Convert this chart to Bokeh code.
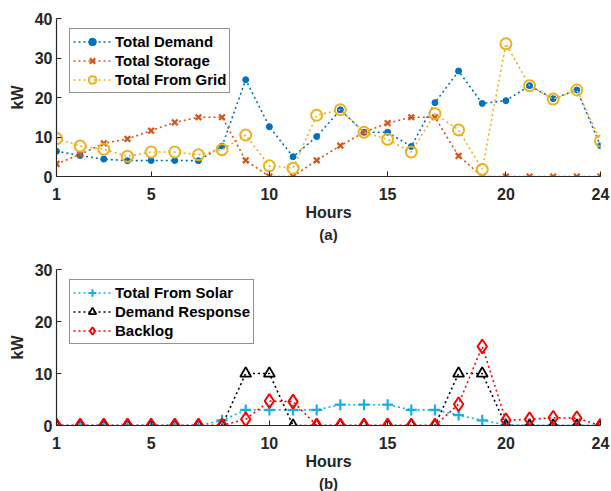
from bokeh.plotting import figure
from bokeh.layouts import column
from bokeh.models import Legend, LegendItem, Title, FixedTicker, Range1d
from bokeh.embed import file_html
from bokeh.resources import INLINE

hours = list(range(1, 25))
x_ticks = [1, 5, 10, 15, 20, 24]

total_demand = [6.4, 5.3, 4.4, 4.0, 4.05, 4.05, 4.0, 7.7, 24.5, 12.6, 5.0, 10.1,
                16.9, 11.2, 11.2, 7.6, 18.7, 26.7, 18.5, 19.2, 23.0, 19.7, 21.9, 7.8]
total_storage = [3.2, 5.6, 8.4, 9.5, 11.6, 13.7, 15.0, 15.0, 4.1, 0.0, 0.0, 4.1,
                 7.8, 11.2, 13.5, 15.0, 15.0, 5.2, 0.0, 0.0, 0.0, 0.0, 0.0, 0.0]
total_from_grid = [9.6, 7.7, 6.9, 5.1, 6.2, 6.2, 5.5, 6.8, 10.5, 2.7, 2.1, 15.5,
                   16.9, 11.2, 9.4, 6.2, 15.9, 11.8, 1.8, 33.6, 23.0, 19.6, 21.9, 9.0]

total_from_solar = [0, 0, 0, 0, 0, 0, 0, 1.0, 3.0, 3.0, 3.0, 3.0,
                    4.0, 4.0, 4.0, 3.0, 3.0, 2.0, 1.0, 0.1, 0, 0, 0, 0]
demand_response = [0, 0, 0, 0, 0, 0, 0, 0, 10, 10, 0, 0,
                   0, 0, 0, 0, 0, 10, 10, 0, 0, 0, 0, 0]
backlog = [0, 0, 0, 0, 0, 0, 0, 0, 1.2, 4.7, 4.6, 0,
           0, 0, 0, 0, 0, 4.1, 15.2, 1.0, 1.2, 1.5, 1.4, 0]

AX = "#262626"
FONT = "Liberation Sans"
DASH = "2 3"


def base_fig(height, top, bottom, ymax, yticks):
    p = figure(width=611, height=height, output_backend="svg", toolbar_location=None,
               x_range=Range1d(1, 24), y_range=Range1d(0, ymax),
               min_border_left=56, min_border_right=11,
               min_border_top=top, min_border_bottom=bottom)
    p.outline_line_color = None
    p.grid.visible = False
    p.background_fill_color = "white"
    p.border_fill_color = "white"
    for ax in (p.xaxis[0], p.yaxis[0]):
        ax.axis_line_color = AX
        ax.axis_line_width = 1.2
        ax.major_tick_line_color = AX
        ax.major_tick_in = 5
        ax.major_tick_out = 0
        ax.minor_tick_line_color = None
        ax.major_label_text_font = FONT
        ax.major_label_text_font_style = "bold"
        ax.major_label_text_font_size = "16px"
        ax.major_label_text_color = AX
        ax.axis_label_text_font = FONT
        ax.axis_label_text_font_style = "bold"
        ax.axis_label_text_font_size = "16px"
        ax.axis_label_text_color = AX
    p.xaxis.ticker = FixedTicker(ticks=x_ticks)
    p.yaxis.ticker = FixedTicker(ticks=yticks)
    p.xaxis.axis_label = "Hours"
    p.yaxis.axis_label = "kW"
    p.xaxis.major_label_standoff = 11
    p.xaxis.axis_label_standoff = 1
    p.yaxis.major_label_standoff = 4
    p.yaxis.axis_label_standoff = 6
    return p


def add_legend(p, items, loc):
    leg = Legend(items=items, location=loc, orientation="vertical",
                 label_text_font=FONT, label_text_font_style="bold",
                 label_text_font_size="15px", label_text_color="black",
                 glyph_width=38, glyph_height=19, label_height=19,
                 spacing=0, padding=3, margin=0, label_standoff=4,
                 border_line_color=AX, border_line_width=1,
                 background_fill_alpha=1.0)
    p.add_layout(leg)


# ---------- top chart (a) ----------
p1 = base_fig(245, 18, 69, 40, [0, 10, 20, 30, 40])

c_blue = "#0072BD"
c_orange = "#D95319"
c_yellow = "#EDB120"

l1 = p1.line(hours, total_demand, line_color=c_blue, line_width=1.6, line_dash=DASH)
m1 = p1.scatter(hours, total_demand, marker="circle", size=6, fill_color=c_blue, line_color=c_blue)
l2 = p1.line(hours, total_storage, line_color=c_orange, line_width=1.6, line_dash=DASH)
m2 = p1.scatter(hours, total_storage, marker="x", size=8, line_color=c_orange, line_width=2.2)
l3 = p1.line(hours, total_from_grid, line_color=c_yellow, line_width=1.6, line_dash=DASH)
m3 = p1.scatter(hours, total_from_grid, marker="circle", size=11, fill_color=None,
                line_color=c_yellow, line_width=2)

add_legend(p1, [LegendItem(label="Total Demand", renderers=[l1, m1]),
                LegendItem(label="Total Storage", renderers=[l2, m2]),
                LegendItem(label="Total From Grid", renderers=[l3, m3])], (13, 83))
p1.add_layout(Title(text="(a)", align="center", text_font=FONT, text_font_size="15px",
                    text_font_style="bold", text_color=AX, standoff=0), "below")

# ---------- bottom chart (b) ----------
p2 = base_fig(246, 24, 66, 30, [0, 10, 20, 30])

c_cyan = "#16ADEB"
c_black = "#000000"
c_red = "#FF0000"

k1 = p2.line(hours, total_from_solar, line_color=c_cyan, line_width=1.6, line_dash=DASH)
n1 = p2.scatter(hours, total_from_solar, marker="cross", size=11, line_color=c_cyan, line_width=2.2)
k2 = p2.line(hours, demand_response, line_color=c_black, line_width=1.6, line_dash=DASH)
n2 = p2.scatter(hours, demand_response, marker="triangle", size=11, fill_color=None,
                line_color=c_black, line_width=1.8)
k3 = p2.line(hours, backlog, line_color=c_red, line_width=1.6, line_dash=DASH)
n3 = p2.scatter(hours, backlog, marker="diamond", size=14, fill_color=None,
                line_color=c_red, line_width=2)

add_legend(p2, [LegendItem(label="Total From Solar", renderers=[k1, n1]),
                LegendItem(label="Demand Response", renderers=[k2, n2]),
                LegendItem(label="Backlog", renderers=[k3, n3])], (13, 81))
p2.add_layout(Title(text="(b)", align="center", text_font=FONT, text_font_size="15px",
                    text_font_style="bold", text_color=AX, standoff=0), "below")

layout = column(p1, p2, spacing=0)
open("out.html", "w").write(file_html(layout, INLINE))
